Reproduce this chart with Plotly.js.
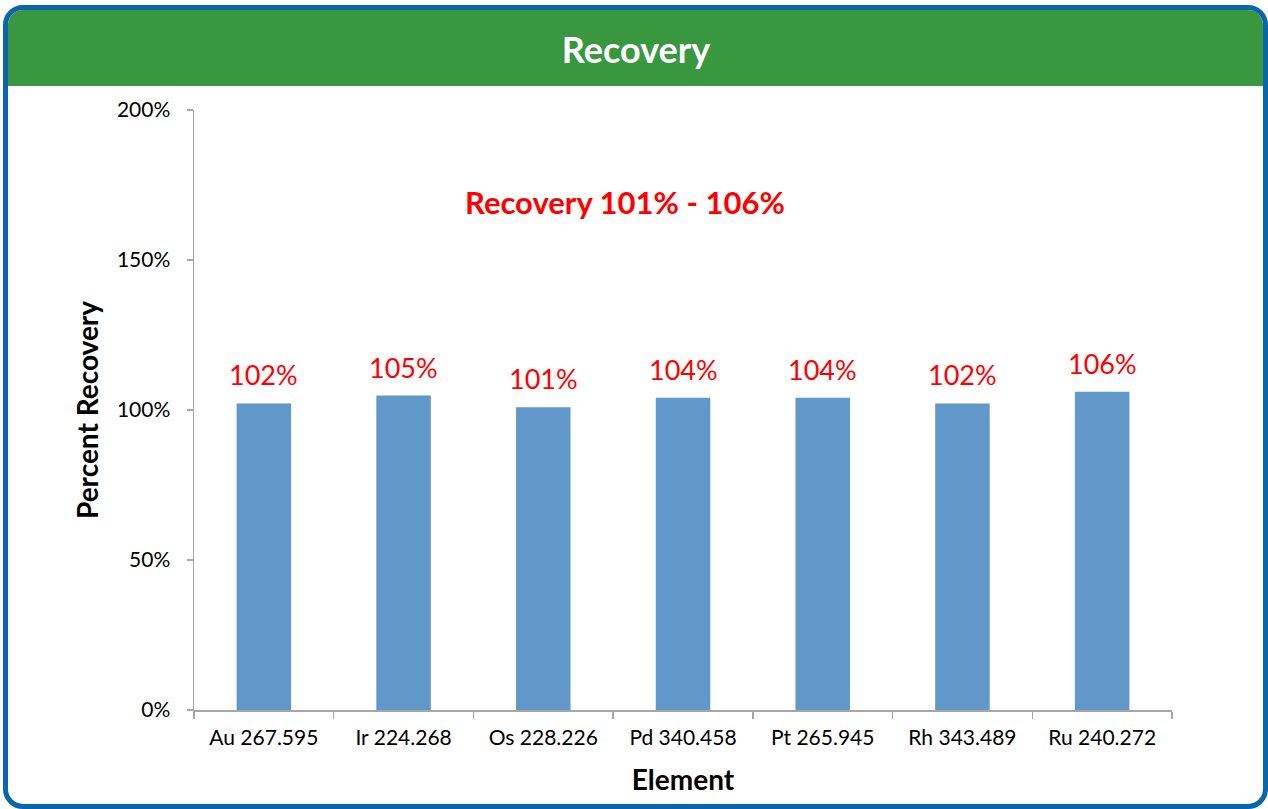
<!DOCTYPE html>
<html>
<head>
<meta charset="utf-8">
<script src="https://cdn.plot.ly/plotly-3.0.1.min.js"></script>
<style>
  html, body { margin: 0; padding: 0; width: 1268px; height: 809px; overflow: hidden; background: #ffffff; }
  #frame { position: absolute; left: 3px; top: 5px; width: 1265px; height: 804px; box-sizing: border-box;
           border: 5px solid #0B64AE; border-radius: 20px; overflow: hidden; background: #ffffff; }
  #header { position: absolute; left: 0; top: 0; width: 100%; height: 76px; background: #38973F; }
  #chart { position: absolute; left: 0; top: 0; width: 1268px; height: 809px; }
</style>
</head>
<body>
<div id="frame"><div id="header"></div></div>
<div id="chart"></div>
<script>
const chartTitle = 'Recovery';
const categories = ['Au 267.595', 'Ir 224.268', 'Os 228.226', 'Pd 340.458', 'Pt 265.945', 'Rh 343.489', 'Ru 240.272'];
const recoveryValues = [102.2, 104.8, 100.9, 104.1, 104.1, 102.2, 106.1];
const yTickValues = [0, 50, 100, 150, 200];
const yTickLabels = ['0%', '50%', '100%', '150%', '200%'];
const noteText = 'Recovery 101% - 106%';
const xTitle = 'Element';
const yTitle = 'Percent Recovery';

const FONT = 'Lato, "Open Sans", sans-serif';

const trace = {
  type: 'bar',
  x: categories,
  y: recoveryValues,
  marker: { color: '#6197C9', line: { width: 0 } },
  width: 0.39,
  hoverinfo: 'x+y'
};

const labelAnnotations = categories.map((c, i) => ({
  x: c, y: recoveryValues[i], xref: 'x', yref: 'y',
  text: Math.round(recoveryValues[i]) + '%',
  showarrow: false, yanchor: 'bottom', yshift: 10,
  font: { family: FONT, size: 27, color: '#FF0000' }
}));

const layout = {
  width: 1268, height: 809,
  paper_bgcolor: 'rgba(0,0,0,0)', plot_bgcolor: 'rgba(0,0,0,0)',
  margin: { l: 194, r: 96, t: 110, b: 99 },
  showlegend: false,
  title: {
    text: '<b>' + chartTitle + '</b>',
    font: { family: FONT, size: 36, color: '#ffffff' },
    x: 0.5016, xref: 'container', xanchor: 'center',
    y: 1 - 50 / 809, yref: 'container', yanchor: 'middle'
  },
  xaxis: {
    type: 'category',
    showline: true, linecolor: '#A6A6A6', linewidth: 1.5,
    ticks: 'outside', tickson: 'boundaries', ticklen: 7, tickcolor: '#A6A6A6', tickwidth: 1.5,
    showgrid: false, zeroline: false,
    tickfont: { family: FONT, size: 21, color: '#000000' },
    ticklabelstandoff: 8,
    title: { text: '<b>' + xTitle + '</b>', font: { family: FONT, size: 28, color: '#000000' }, standoff: 22 },
    automargin: false, fixedrange: true
  },
  yaxis: {
    range: [0, 200], tickmode: 'array', tickvals: yTickValues, ticktext: yTickLabels,
    showline: true, linecolor: '#A6A6A6', linewidth: 1.5,
    ticks: 'outside', ticklen: 6, tickcolor: '#A6A6A6', tickwidth: 1.5,
    showgrid: false, zeroline: false,
    tickfont: { family: FONT, size: 21, color: '#000000' },
    ticklabelstandoff: 12,
    title: { text: '<b>' + yTitle + '</b>', font: { family: FONT, size: 28, color: '#000000' }, standoff: 10 },
    automargin: false, fixedrange: true
  },
  annotations: labelAnnotations.concat([{
    x: 0.441, xref: 'paper', y: 169.5, yref: 'y',
    text: '<b>' + noteText + '</b>', showarrow: false,
    xanchor: 'center', yanchor: 'middle',
    font: { family: FONT, size: 31, color: '#FF0000' }
  }])
};

Plotly.newPlot('chart', [trace], layout, { displayModeBar: false, staticPlot: true });
</script>
</body>
</html>
